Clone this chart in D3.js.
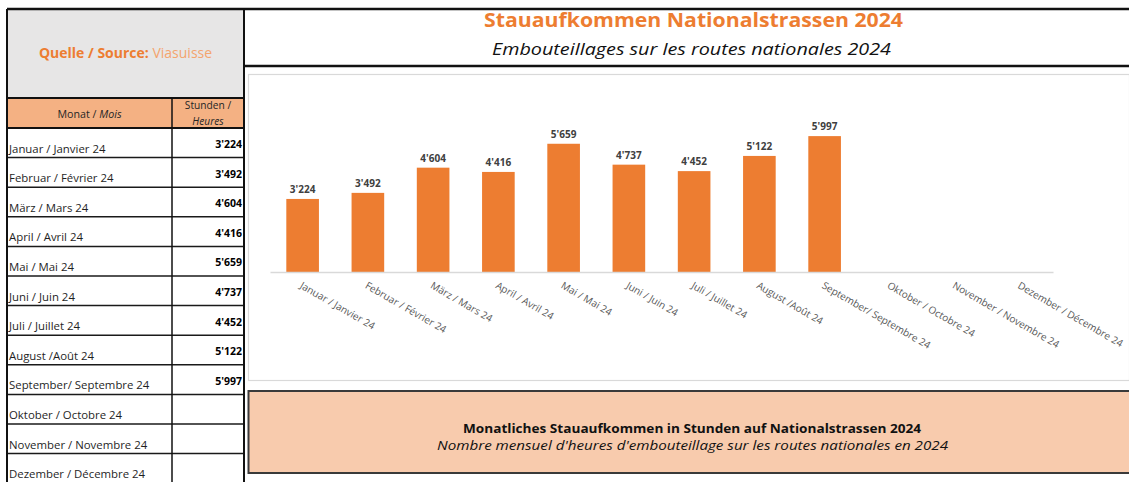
<!DOCTYPE html>
<html>
<head>
<meta charset="utf-8">
<script src="https://cdn.jsdelivr.net/npm/d3@7"></script>
<style>
  html, body { margin: 0; padding: 0; background: #ffffff; }
  svg { display: block; }
</style>
</head>
<body>
<svg id="chart" width="1129" height="482"></svg>
<script>
// ---------- DATA ----------
const categories = [
  "Januar / Janvier 24", "Februar / Février 24", "März / Mars 24", "April / Avril 24",
  "Mai / Mai 24", "Juni / Juin 24", "Juli / Juillet 24", "August /Août 24",
  "September/ Septembre 24", "Oktober / Octobre 24", "November / Novembre 24", "Dezember / Décembre 24"
];
const hours = [3224, 3492, 4604, 4416, 5659, 4737, 4452, 5122, 5997, null, null, null];
const yDomain = [0, 7000];

const titleDE = "Stauaufkommen Nationalstrassen 2024";
const titleFR = "Embouteillages sur les routes nationales 2024";
const sourceLabel = "Quelle / Source:";
const sourceName = " Viasuisse";
const colMonthDE = "Monat / ";
const colMonthFR = "Mois";
const colHoursDE = "Stunden /";
const colHoursFR = "Heures";
const captionDE = "Monatliches Stauaufkommen in Stunden auf Nationalstrassen 2024";
const captionFR = "Nombre mensuel d'heures d'embouteillage sur les routes nationales en 2024";

// ---------- SETUP ----------
const svg = d3.select("#chart");
const fmt = d3.formatLocale({ decimal: ".", thousands: "'", grouping: [3], currency: ["", ""] }).format(",d");
const ORANGE = "#ED7D31";
const FONT = "'Open Sans', sans-serif";

// ---------- LEFT TABLE ----------
const tLeft = 7, tRight = 244, tCol = 172, tTop = 9;
const headBottom = 98, hdrBottom = 128, rowH = 29.6;

svg.append("rect").attr("x", tLeft).attr("y", tTop).attr("width", tRight - tLeft).attr("height", headBottom - tTop)
  .attr("fill", "#E7E6E6");
svg.append("rect").attr("x", tLeft).attr("y", headBottom).attr("width", tRight - tLeft).attr("height", hdrBottom - headBottom)
  .attr("fill", "#F4B183");

const src = svg.append("text").attr("x", (tLeft + tRight) / 2).attr("y", 58)
  .attr("text-anchor", "middle").attr("font-family", FONT).attr("font-size", 14);
src.append("tspan").attr("font-weight", "bold").attr("fill", ORANGE).text(sourceLabel);
src.append("tspan").attr("fill", "#F4A46E").text(sourceName);

const mh = svg.append("text").attr("x", (tLeft + tCol) / 2).attr("y", 118)
  .attr("text-anchor", "middle").attr("font-family", FONT).attr("font-size", 10.7).attr("fill", "#262626");
mh.append("tspan").text(colMonthDE);
mh.append("tspan").attr("font-style", "italic").text(colMonthFR);
svg.append("text").attr("x", (tCol + tRight) / 2).attr("y", 109).attr("text-anchor", "middle")
  .attr("font-family", FONT).attr("font-size", 10.2).attr("fill", "#262626").text(colHoursDE);
svg.append("text").attr("x", (tCol + tRight) / 2).attr("y", 125).attr("text-anchor", "middle")
  .attr("font-family", FONT).attr("font-size", 10.2).attr("font-style", "italic").attr("fill", "#262626").text(colHoursFR);

const rows = svg.append("g");
categories.forEach((c, i) => {
  const y0 = hdrBottom + i * rowH;
  rows.append("text").attr("x", 9).attr("y", y0 + 24.5).attr("font-family", FONT).attr("font-size", 11.4)
    .attr("fill", "#1f1f1f").text(c);
  if (hours[i] != null) {
    rows.append("text").attr("x", 242).attr("y", y0 + 20).attr("text-anchor", "end").attr("font-family", FONT)
      .attr("font-size", 10.5).attr("font-weight", "bold").attr("fill", "#000").text(fmt(hours[i]));
  }
  rows.append("line").attr("x1", tLeft).attr("x2", tRight).attr("y1", y0 + rowH).attr("y2", y0 + rowH)
    .attr("stroke", "#1a1a1a").attr("stroke-width", 1.5);
});
// table grid lines
const gl = (x1, y1, x2, y2, w) => svg.append("line").attr("x1", x1).attr("y1", y1).attr("x2", x2).attr("y2", y2)
  .attr("stroke", "#111").attr("stroke-width", w);
gl(tLeft, headBottom, tRight, headBottom, 2);
gl(tLeft, hdrBottom, tRight, hdrBottom, 2);
gl(tCol, headBottom, tCol, 482, 1.5);
gl(tLeft, tTop, tLeft, 482, 2);
gl(tRight, tTop, tRight, 482, 2);
gl(tLeft, tTop, 1129, tTop, 2.5);

// ---------- TITLE AREA ----------
gl(tRight, 66, 1129, 66, 2.5);
svg.append("text").attr("x", 484).attr("y", 27).attr("font-family", FONT)
  .attr("font-size", 20).attr("font-weight", "bold").attr("fill", ORANGE)
  .attr("textLength", 419).attr("lengthAdjust", "spacingAndGlyphs").text(titleDE);
svg.append("text").attr("x", 492).attr("y", 55).attr("font-family", FONT)
  .attr("font-size", 17).attr("font-style", "italic").attr("fill", "#111")
  .attr("textLength", 399).attr("lengthAdjust", "spacingAndGlyphs").text(titleFR);

// ---------- CHART BOX ----------
svg.append("rect").attr("x", 248.5).attr("y", 74.5).attr("width", 1129 - 248).attr("height", 306)
  .attr("fill", "#fff").attr("stroke", "#d9d9d9").attr("stroke-width", 1.2);

const x = d3.scaleBand().domain(categories).range([270, 1053]).paddingInner(0.5).paddingOuter(0.25);
const y = d3.scaleLinear().domain(yDomain).range([272, 272 - 7000 * 0.02266]);

const data = categories.map((c, i) => ({ c, v: hours[i] }));

svg.append("g").selectAll("rect").data(data.filter(d => d.v != null)).join("rect")
  .attr("x", d => x(d.c)).attr("width", x.bandwidth())
  .attr("y", d => y(d.v)).attr("height", d => y(0) - y(d.v))
  .attr("fill", ORANGE);

svg.append("g").selectAll("text").data(data.filter(d => d.v != null)).join("text")
  .attr("x", d => x(d.c) + x.bandwidth() / 2).attr("y", d => y(d.v) - 6)
  .attr("text-anchor", "middle").attr("font-family", FONT).attr("font-size", 10).attr("font-weight", "bold")
  .attr("fill", "#404040").text(d => fmt(d.v));

const xAxis = svg.append("g").attr("transform", `translate(0,${y(0)})`)
  .call(d3.axisBottom(x).tickSize(0).tickSizeOuter(0));
xAxis.select(".domain").attr("stroke", "#d9d9d9").attr("stroke-width", 1.5);
xAxis.selectAll(".tick text")
  .attr("font-family", FONT).attr("font-size", 10).attr("fill", "#595959")
  .attr("text-anchor", "start").attr("dy", 0)
  .attr("transform", "translate(-2,13) rotate(30)");

// ---------- CAPTION BOX ----------
svg.append("rect").attr("x", 248.5).attr("y", 391).attr("width", 1129 - 248 + 5).attr("height", 82)
  .attr("fill", "#F8CBAD").attr("stroke", "#3a3a3a").attr("stroke-width", 2);
svg.append("text").attr("x", 463).attr("y", 433).attr("font-family", FONT)
  .attr("font-size", 12).attr("font-weight", "bold").attr("fill", "#111")
  .attr("textLength", 458).attr("lengthAdjust", "spacingAndGlyphs").text(captionDE);
svg.append("text").attr("x", 437).attr("y", 450).attr("font-family", FONT)
  .attr("font-size", 12).attr("font-style", "italic").attr("fill", "#111")
  .attr("textLength", 511).attr("lengthAdjust", "spacingAndGlyphs").text(captionFR);
</script>
</body>
</html>
